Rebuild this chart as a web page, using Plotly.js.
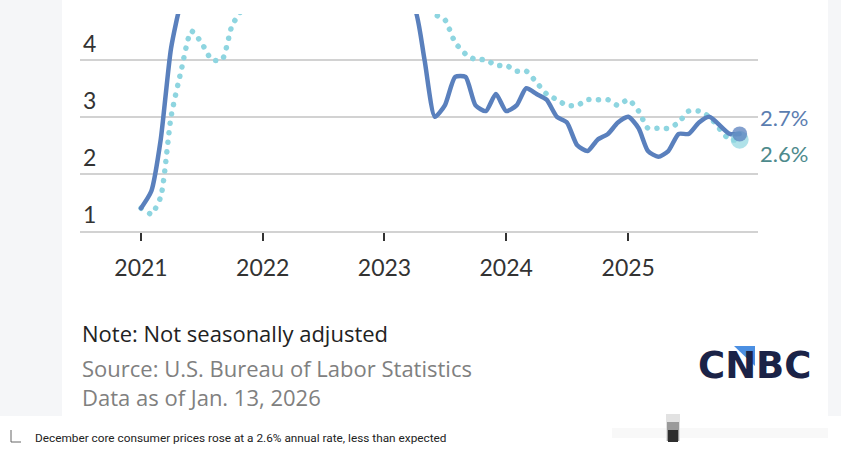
<!DOCTYPE html>
<html>
<head>
<meta charset="utf-8">
<script src="https://cdn.plot.ly/plotly-3.0.1.min.js"></script>
<style>
  html, body { margin: 0; padding: 0; background: #ffffff; }
  #chart { width: 841px; height: 454px; }
  .scatterlayer .js-line { stroke-linecap: round; }
</style>
</head>
<body>
<div id="chart"></div>
<script>
// ---- Data (monthly, year-over-year %) ----
const months = [];
for (let y = 2021; y <= 2025; y++) {
  for (let m = 1; m <= 12; m++) months.push(y + '-' + String(m).padStart(2, '0') + '-01');
}
const headlineCPI = [
  1.4, 1.7, 2.6, 4.2, 5.0, 5.4, 5.4, 5.3, 5.4, 6.2, 6.8, 7.0,
  7.5, 7.9, 8.5, 8.3, 8.6, 9.1, 8.5, 8.3, 8.2, 7.7, 7.1, 6.5,
  6.4, 6.0, 5.0, 4.9, 4.0, 3.0, 3.2, 3.7, 3.7, 3.2, 3.1, 3.4,
  3.1, 3.2, 3.5, 3.4, 3.3, 3.0, 2.9, 2.5, 2.4, 2.6, 2.7, 2.9,
  3.0, 2.8, 2.4, 2.3, 2.4, 2.7, 2.7, 2.9, 3.0, null, 2.7, 2.7
];
const coreCPI = [
  1.4, 1.3, 1.6, 3.0, 3.8, 4.5, 4.3, 4.0, 4.0, 4.6, 4.9, 5.5,
  6.0, 6.4, 6.5, 6.2, 6.0, 5.9, 5.9, 6.3, 6.6, 6.3, 6.0, 5.7,
  5.6, 5.5, 5.6, 5.5, 5.3, 4.8, 4.7, 4.3, 4.1, 4.0, 4.0, 3.9,
  3.9, 3.8, 3.8, 3.6, 3.4, 3.3, 3.2, 3.2, 3.3, 3.3, 3.3, 3.2,
  3.3, 3.1, 2.8, 2.8, 2.8, 2.9, 3.1, 3.1, 3.0, null, 2.6, 2.6
];
const yTicks = [1, 2, 3, 4];
const xTickVals = ['2021-01-01', '2022-01-01', '2023-01-01', '2024-01-01', '2025-01-01'];
const xTickText = ['2021', '2022', '2023', '2024', '2025'];
const headlineLabel = '2.7%';
const coreLabel = '2.6%';
const noteText = 'Note: Not seasonally adjusted';
const sourceText = 'Source: U.S. Bureau of Labor Statistics';
const dateText = 'Data as of Jan. 13, 2026';
const captionText = 'December core consumer prices rose at a 2.6% annual rate, less than expected';

// ---- Layout geometry ----
const W = 841, H = 454;
const M = { l: 80, r: 83, t: 14, b: 223 };
const PW = W - M.l - M.r, PH = H - M.t - M.b;
const px = x => (x - M.l) / PW;          // pixel -> paper x
const py = y => (H - M.b - y) / PH;      // pixel -> paper y

const blue = '#5a80bd';
const cyan = '#8ed5e0';
const lastX = months[months.length - 1];
const lastH = headlineCPI[headlineCPI.length - 1];
const lastC = coreCPI[coreCPI.length - 1];

const traces = [
  {
    x: months, y: coreCPI, type: 'scatter', mode: 'lines', connectgaps: true,
    line: { color: cyan, width: 5.5, dash: '0.1px,9.5px', shape: 'spline', smoothing: 0.6 },
    hoverinfo: 'skip'
  },
  {
    x: months, y: headlineCPI, type: 'scatter', mode: 'lines', connectgaps: true,
    line: { color: blue, width: 4.5, shape: 'spline', smoothing: 0.6 },
    hoverinfo: 'skip'
  },
  {
    x: [lastX], y: [lastC], type: 'scatter', mode: 'markers', cliponaxis: false,
    marker: { size: 18, color: 'rgba(142,213,224,0.7)' }, hoverinfo: 'skip'
  },
  {
    x: [lastX], y: [lastH], type: 'scatter', mode: 'markers', cliponaxis: false,
    marker: { size: 15, color: 'rgba(90,128,189,0.75)' }, hoverinfo: 'skip'
  }
];

const bg = '#f5f6f8';
const shapes = [
  { type: 'rect', xref: 'paper', yref: 'paper', x0: px(0), x1: px(62), y0: py(0), y1: py(416), fillcolor: bg, line: { width: 0 }, layer: 'below' },
  { type: 'rect', xref: 'paper', yref: 'paper', x0: px(828), x1: px(841), y0: py(0), y1: py(416), fillcolor: bg, line: { width: 0 }, layer: 'below' },
  // corner icon in caption
  { type: 'line', xref: 'paper', yref: 'paper', x0: px(11), x1: px(11), y0: py(430), y1: py(442), line: { color: '#666', width: 1 } },
  { type: 'line', xref: 'paper', yref: 'paper', x0: px(11), x1: px(21), y0: py(442), y1: py(442), line: { color: '#666', width: 1 } },
  // faint blurred element at right of caption strip
  { type: 'rect', xref: 'paper', yref: 'paper', x0: px(612), x1: px(828), y0: py(428), y1: py(438), fillcolor: '#f8f8f8', line: { width: 0 }, layer: 'below' },
  { type: 'rect', xref: 'paper', yref: 'paper', x0: px(666), x1: px(680), y0: py(414), y1: py(441), fillcolor: '#e2e2e2', line: { width: 0 } },
  { type: 'rect', xref: 'paper', yref: 'paper', x0: px(667), x1: px(679), y0: py(422), y1: py(441), fillcolor: '#9a9a9a', line: { width: 0 } },
  { type: 'rect', xref: 'paper', yref: 'paper', x0: px(668), x1: px(678), y0: py(430), y1: py(442), fillcolor: '#2e2e2e', line: { width: 0 } },
  // CNBC logo triangle
  { type: 'path', xref: 'paper', yref: 'paper',
    path: `M ${px(734)} ${py(346)} L ${px(755)} ${py(346)} L ${px(755)} ${py(366)} Z`,
    fillcolor: '#4b8fe2', line: { width: 0 } }
];

const annotations = [
  { xref: 'paper', yref: 'y', x: 1, y: lastH, yshift: 16, xanchor: 'left', yanchor: 'middle', showarrow: false,
    text: headlineLabel, font: { family: 'Lato', size: 22, color: '#5b7db0' } },
  { xref: 'paper', yref: 'y', x: 1, y: lastC, yshift: -14, xanchor: 'left', yanchor: 'middle', showarrow: false,
    text: coreLabel, font: { family: 'Lato', size: 22, color: '#4d8a8c' } },
  { xref: 'paper', yref: 'paper', x: 0, y: py(333), xanchor: 'left', yanchor: 'middle', showarrow: false,
    text: noteText, font: { family: 'Open Sans', size: 22, color: '#222' } },
  { xref: 'paper', yref: 'paper', x: 0, y: py(368), xanchor: 'left', yanchor: 'middle', showarrow: false,
    text: sourceText, font: { family: 'Open Sans', size: 22, color: '#808080' } },
  { xref: 'paper', yref: 'paper', x: 0, y: py(397), xanchor: 'left', yanchor: 'middle', showarrow: false,
    text: dateText, font: { family: 'Open Sans', size: 22, color: '#808080' } },
  { xref: 'paper', yref: 'paper', x: px(696), y: py(365), xanchor: 'left', yanchor: 'middle', showarrow: false,
    text: '<b>CNBC</b>', font: { family: 'DejaVu Sans', size: 37, color: '#1b2347' } },
  { xref: 'paper', yref: 'paper', x: px(33), y: py(438), xanchor: 'left', yanchor: 'middle', showarrow: false,
    text: captionText, font: { family: 'Roboto', size: 11.8, color: '#222' } }
];

const layout = {
  width: W, height: H,
  margin: M,
  paper_bgcolor: '#ffffff', plot_bgcolor: 'rgba(0,0,0,0)',
  showlegend: false,
  xaxis: {
    type: 'date', range: ['2020-07-02', '2026-01-25'],
    tickvals: xTickVals, ticktext: xTickText,
    ticks: 'outside', ticklen: 8, tickwidth: 2, tickcolor: '#333',
    showgrid: false, zeroline: false,
    showline: true, linecolor: '#d2d2d2', linewidth: 2,
    ticklabelstandoff: 7,
    tickfont: { family: 'Lato', size: 23, color: '#333' },
    fixedrange: true
  },
  yaxis: {
    range: [1, 4.8], tickvals: yTicks,
    ticklabelposition: 'inside top',
    showgrid: true, gridcolor: '#d2d2d2', gridwidth: 2,
    zeroline: false, showline: false, ticks: '',
    tickfont: { family: 'Lato', size: 23, color: '#333' },
    fixedrange: true
  },
  shapes: shapes,
  annotations: annotations
};

Plotly.newPlot('chart', traces, layout, { displayModeBar: false, staticPlot: true });
</script>
</body>
</html>
